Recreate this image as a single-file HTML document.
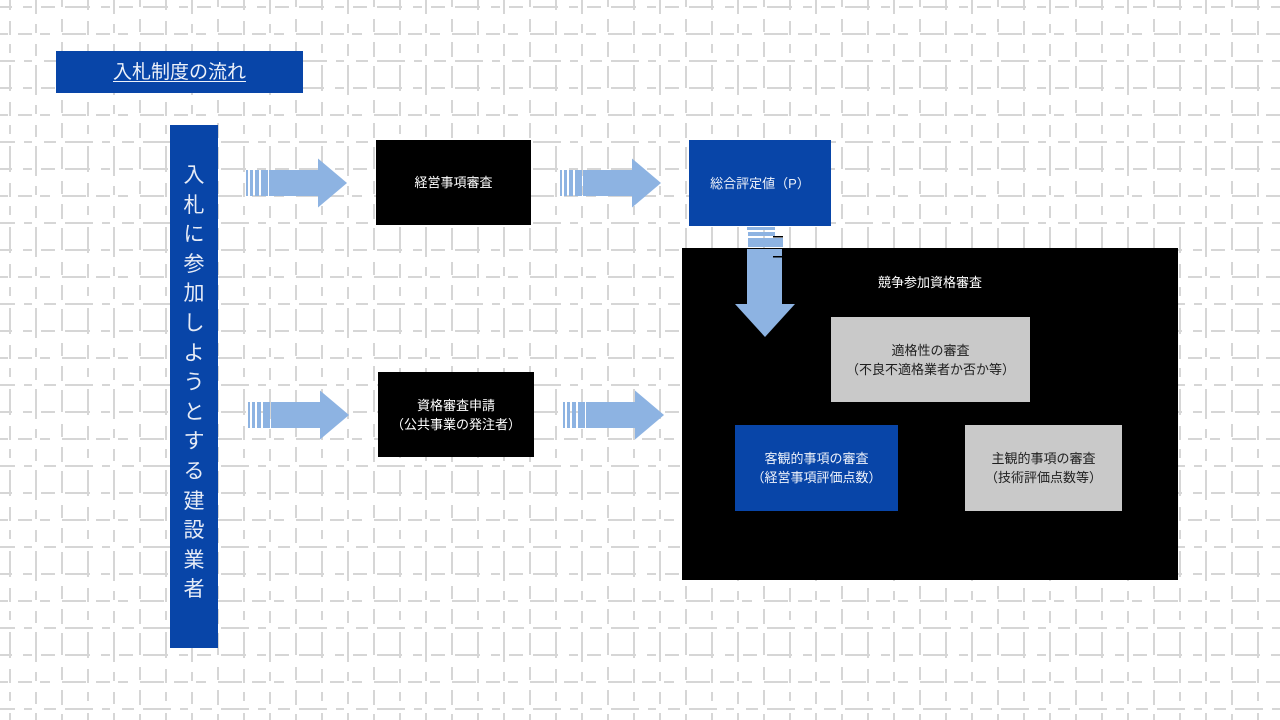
<!DOCTYPE html>
<html><head><meta charset="utf-8">
<style>
html,body{margin:0;padding:0;}
body{width:1280px;height:720px;position:relative;overflow:hidden;background:#fff;font-family:"Liberation Sans","Noto Sans CJK JP",sans-serif;}
.abs{position:absolute;box-sizing:border-box;}
.box{position:absolute;display:flex;align-items:center;justify-content:center;text-align:center;font-size:13px;line-height:19px;}
.blk{background:#000;color:#fff;}
.blu{background:#0845a8;color:#eef2fa;}
.gry{background:#c9c9c9;color:#1e1e1e;}
</style></head>
<body>
<svg class="abs" style="left:0;top:0" width="1280" height="720" xmlns="http://www.w3.org/2000/svg">
<defs>
<pattern id="bg" width="78" height="81" patternUnits="userSpaceOnUse">
<g stroke="#d6d6d6" stroke-width="2" fill="none">
<line x1="0" y1="7" x2="78" y2="7" stroke-dasharray="12 11 9 9 14 10 13 0"/>
<line x1="0" y1="34" x2="78" y2="34" stroke-dasharray="8 10 14 8 10 12 16 0"/>
<line x1="0" y1="61" x2="78" y2="61" stroke-dasharray="15 9 8 12 12 9 13 0"/>
<line x1="10" y1="0" x2="10" y2="81" stroke-dasharray="10 11 14 9 9 12 16 0"/>
<line x1="36" y1="0" x2="36" y2="81" stroke-dasharray="14 10 9 11 12 9 16 0"/>
<line x1="62" y1="0" x2="62" y2="81" stroke-dasharray="7 12 13 10 15 9 15 0"/>
</g>
</pattern>
<g id="arr" fill="#8db3e2">
<rect x="0" y="-13" width="2" height="26"/>
<rect x="4" y="-13" width="3" height="26"/>
<rect x="9" y="-13" width="4" height="26"/>
<rect x="15" y="-13" width="7" height="26"/>
<rect x="23" y="-13" width="50" height="26"/>
<polygon points="72,-24.5 101,0 72,24.5"/>
</g>
</defs>
<rect width="1280" height="720" fill="url(#bg)"/>
<use href="#arr" transform="translate(246,183)"/>
<use href="#arr" transform="translate(560,183)"/>
<use href="#arr" transform="translate(248,415)"/>
<use href="#arr" transform="translate(563,415)"/>
</svg>

<div class="box blu" style="left:56px;top:51px;width:247px;height:42px;font-size:19px;text-decoration:underline;text-underline-offset:3px;">入札制度の流れ</div>

<div class="abs" style="left:170px;top:125px;width:48px;height:523px;background:#0845a8;"></div>
<div class="abs" style="left:170px;top:160px;width:48px;text-align:center;color:#e6ebf6;font-size:21px;line-height:29.6px;font-family:'Noto Sans CJK JP',sans-serif;">入<br>札<br>に<br>参<br>加<br>し<br>よ<br>う<br>と<br>す<br>る<br>建<br>設<br>業<br>者</div>

<div class="box blk" style="left:376px;top:140px;width:155px;height:85px;">経営事項審査</div>
<div class="box blu" style="left:689px;top:140px;width:142px;height:86px;">総合評定値（P）</div>
<div class="box blk" style="left:378px;top:372px;width:156px;height:85px;">資格審査申請<br>（公共事業の発注者）</div>

<div class="abs" style="left:682px;top:248px;width:496px;height:332px;background:#000;"></div>
<div class="abs" style="left:682px;top:273px;width:496px;text-align:center;color:#fff;font-size:13px;line-height:20px;">競争参加資格審査</div>

<svg class="abs" style="left:0;top:0" width="1280" height="720" xmlns="http://www.w3.org/2000/svg">
<g fill="#8db3e2">
<rect x="747" y="227" width="28" height="3"/>
<rect x="748" y="232" width="27" height="4"/>
<rect x="748" y="238" width="35" height="9"/>
<rect x="747" y="249" width="35" height="56"/>
<polygon points="735,304 795,304 765,337"/>
</g>
<g fill="#000">
<rect x="773" y="236" width="10" height="1.5"/>
<rect x="773" y="256" width="10" height="1.5"/>
</g>
</svg>

<div class="box gry" style="left:831px;top:317px;width:199px;height:85px;">適格性の審査<br>（不良不適格業者か否か等）</div>
<div class="box blu" style="left:735px;top:425px;width:163px;height:86px;">客観的事項の審査<br>（経営事項評価点数）</div>
<div class="box gry" style="left:965px;top:425px;width:157px;height:86px;">主観的事項の審査<br>（技術評価点数等）</div>
</body></html>
